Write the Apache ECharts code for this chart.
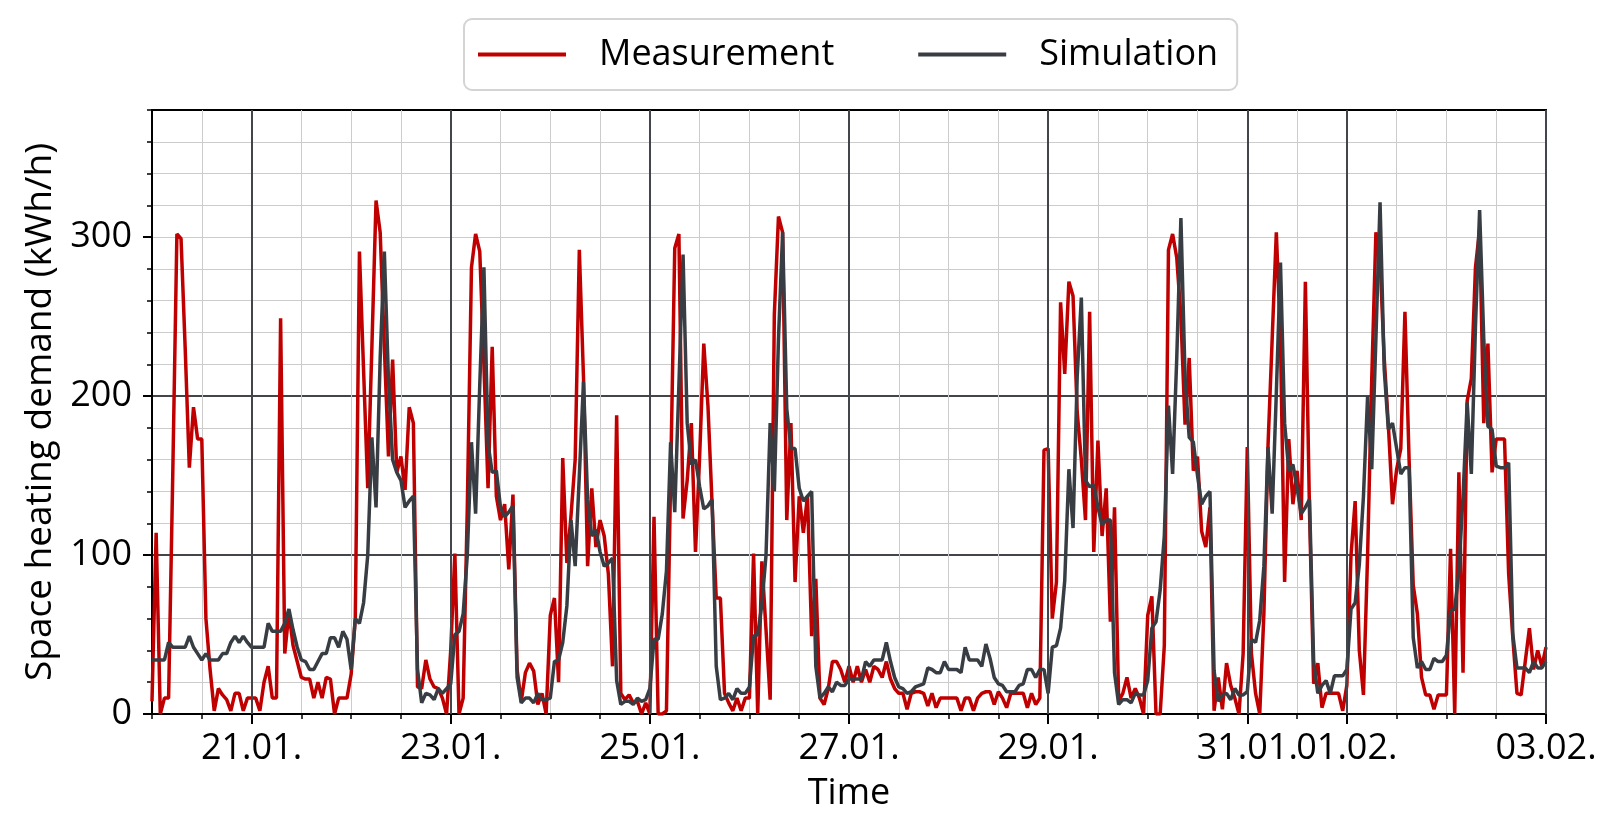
<!DOCTYPE html>
<html>
<head>
<meta charset="utf-8">
<script src="https://cdn.jsdelivr.net/npm/echarts@6/dist/echarts.min.js"></script>
<style>
html,body{margin:0;padding:0;background:#fff;}
#chart{width:1619px;height:839px;}
</style>
</head>
<body>
<div id="chart"></div>
<script>
// Hourly values starting 20.01. 00:00 and ending 03.02. 00:00 (kWh/h)
const measurement = [
8,114,0,10,10,150,302,299,230,155,193,173,173,60,28,2,16,12,9,2,13,13,2,10,
10,10,2,20,30,10,10,249,38,64,43,33,23,22,22,10,20,10,23,22,0,10,10,10,
25,60,291,216,142,231,323,303,231,162,223,152,162,141,193,183,17,16,34,22,17,16,10,0,
40,101,0,10,130,281,302,291,220,142,231,137,122,132,91,138,28,8,26,32,27,6,13,0,
62,73,20,161,95,125,160,292,212,93,142,105,122,112,88,30,188,13,9,12,7,8,0,7,
0,124,0,0,2,147,293,302,123,147,183,102,162,233,194,132,73,73,13,7,2,10,2,10,
10,101,0,96,53,9,251,313,303,122,183,83,137,114,137,49,85,10,6,16,33,33,28,20,
30,20,30,20,28,20,30,28,23,33,22,16,13,13,3,13,14,14,13,5,13,4,10,10,
10,10,10,2,10,10,2,10,13,14,14,6,14,10,4,13,13,13,13,4,13,6,10,166,
167,60,83,259,214,272,263,190,160,122,253,102,172,112,142,58,130,8,13,23,10,16,10,0,
62,74,0,0,43,292,302,287,250,182,224,153,162,115,105,130,2,23,3,32,18,10,0,38,
168,38,13,0,63,169,236,303,236,83,173,132,153,122,272,127,19,32,4,13,13,13,13,2,
18,100,134,40,12,100,211,303,286,224,182,132,154,167,253,160,81,63,23,12,12,3,12,12,
12,104,0,152,26,197,211,281,305,183,233,152,173,173,173,88,48,13,12,33,54,28,40,30,
42
];
const simulation = [
34,34,34,34,45,42,42,42,42,49,42,38,34,38,34,34,34,38,38,45,49,45,49,45,
42,42,42,42,57,52,52,52,57,66,53,42,34,33,28,28,33,38,38,48,48,42,52,47,
28,60,57,70,100,174,130,224,291,210,160,152,147,130,134,137,28,7,13,12,9,16,13,16,
19,50,52,63,100,171,126,207,281,170,152,153,130,124,127,131,23,7,10,10,7,13,9,9,
10,33,34,45,68,122,93,150,209,135,112,116,102,93,95,98,21,6,8,8,6,10,8,9,
16,47,47,63,90,171,127,207,289,183,157,160,143,129,131,135,30,9,10,13,9,16,13,13,
17,49,50,69,100,183,140,236,303,192,167,167,142,134,137,140,30,10,13,17,14,20,18,18,
22,22,22,22,33,30,34,34,34,45,33,23,17,16,13,14,17,18,19,29,28,26,26,33,
28,28,28,26,42,34,34,34,30,44,35,23,19,18,14,14,14,18,19,28,28,23,28,28,
13,42,43,54,84,154,117,212,262,147,143,144,130,119,122,122,26,6,9,9,7,13,12,12,
21,54,58,78,112,194,151,224,312,212,174,171,150,132,137,140,27,8,12,13,9,16,12,12,
14,47,45,59,93,168,126,202,284,183,153,157,142,126,130,135,33,13,18,21,13,24,24,24,
28,66,70,94,137,200,154,236,322,217,179,183,167,151,155,155,48,29,33,28,28,35,33,33,
37,65,66,90,137,196,151,244,317,236,181,179,156,155,155,158,50,29,29,29,26,33,29,29,
33
];
// x tick positions in hours since 20.01. 00:00 and their labels
const majorTickHours = [24, 72, 120, 168, 216, 264, 288, 336];
const majorTickLabels = ['21.01.', '23.01.', '25.01.', '27.01.', '29.01.', '31.01.', '01.02.', '03.02.'];
const yMajorTicks = [0, 100, 200, 300];
const seriesNames = ['Measurement', 'Simulation'];
</script>
<script>
const chart = echarts.init(document.getElementById('chart'), null, {renderer: 'canvas'});
const FONT = '"Open Sans", "Noto Sans", sans-serif';
const labelMap = {};
majorTickHours.forEach((h, i) => { labelMap[h] = majorTickLabels[i]; });
const MAJOR = '#42464b';

const option = {
  backgroundColor: '#ffffff',
  animation: false,
  textStyle: {fontFamily: FONT},
  legend: {
    data: seriesNames,
    left: 464,
    top: 19,
    icon: 'rect',
    itemWidth: 88,
    itemHeight: 4,
    itemGap: 84,
    padding: [15, 19, 15, 14],
    backgroundColor: '#ffffff',
    borderColor: '#d4d4d4',
    borderWidth: 2,
    borderRadius: 8,
    textStyle: {fontFamily: FONT, fontSize: 36, color: '#000', lineHeight: 41, padding: [0, 0, 0, 28]}
  },
  grid: {
    left: 152, right: 73, top: 110, bottom: 125,
    outerBoundsMode: 'none', containLabel: false,
    show: true, borderColor: '#000', borderWidth: 2, backgroundColor: 'transparent'
  },
  xAxis: [
    {
      type: 'value', min: 0, max: 336, interval: 12, position: 'bottom',
      axisLine: {show: true, lineStyle: {color: '#000', width: 2}},
      axisTick: {show: true, length: 5, lineStyle: {color: '#000', width: 1.5}},
      axisLabel: {show: false},
      splitLine: {show: true, showMinLine: false, showMaxLine: false, lineStyle: {color: '#cccccc', width: 1}}
    },
    {
      type: 'value', min: 0, max: 336, interval: 12, position: 'bottom', offset: 0,
      name: 'Time', nameLocation: 'middle', nameGap: 62,
      nameTextStyle: {fontFamily: FONT, fontSize: 36, color: '#000'},
      axisLine: {show: false},
      axisTick: {show: true, length: 10, customValues: majorTickHours, lineStyle: {color: '#000', width: 2}},
      axisLabel: {
        show: true, margin: 17, fontFamily: FONT, fontSize: 36, color: '#000',
        customValues: majorTickHours,
        formatter: v => labelMap[v] || ''
      },
      splitLine: {show: false}
    }
  ],
  yAxis: [
    {
      type: 'value', min: 0, max: 380, interval: 20, position: 'left',
      axisLine: {show: true, lineStyle: {color: '#000', width: 2}},
      axisTick: {show: true, length: 5, lineStyle: {color: '#000', width: 1.5}},
      axisLabel: {show: false},
      splitLine: {show: true, showMinLine: false, showMaxLine: false, lineStyle: {color: '#cccccc', width: 1}}
    },
    {
      type: 'value', min: 0, max: 380, interval: 100, position: 'left', offset: 0,
      name: 'Space heating demand (kWh/h)', nameLocation: 'middle', nameGap: 91,
      nameTextStyle: {fontFamily: FONT, fontSize: 37, color: '#000'},
      axisLine: {show: false},
      axisTick: {show: true, length: 9, customValues: yMajorTicks, lineStyle: {color: '#000', width: 2}},
      axisLabel: {show: true, margin: 20, fontFamily: FONT, fontSize: 36, color: '#000', customValues: yMajorTicks},
      splitLine: {show: true, showMinLine: false, showMaxLine: false, lineStyle: {color: MAJOR, width: 2}}
    }
  ],
  series: [
    {
      name: 'majorGrid', type: 'line', data: [], z: 1, silent: true,
      xAxisIndex: 0, yAxisIndex: 0,
      markLine: {
        silent: true, symbol: 'none', label: {show: false},
        lineStyle: {color: MAJOR, width: 2, type: 'solid'},
        data: majorTickHours.map(h => ({xAxis: h}))
      }
    },
    {
      name: seriesNames[0], type: 'line', xAxisIndex: 0, yAxisIndex: 0, z: 3,
      showSymbol: false, symbol: 'none',
      lineStyle: {color: '#c00000', width: 3.5},
      itemStyle: {color: '#c00000'},
      data: measurement.map((v, i) => [i, v])
    },
    {
      name: seriesNames[1], type: 'line', xAxisIndex: 0, yAxisIndex: 0, z: 4,
      showSymbol: false, symbol: 'none',
      lineStyle: {color: '#383d43', width: 3.5},
      itemStyle: {color: '#383d43'},
      data: simulation.map((v, i) => [i, v])
    }
  ]
};
chart.setOption(option);
</script>
</body>
</html>
